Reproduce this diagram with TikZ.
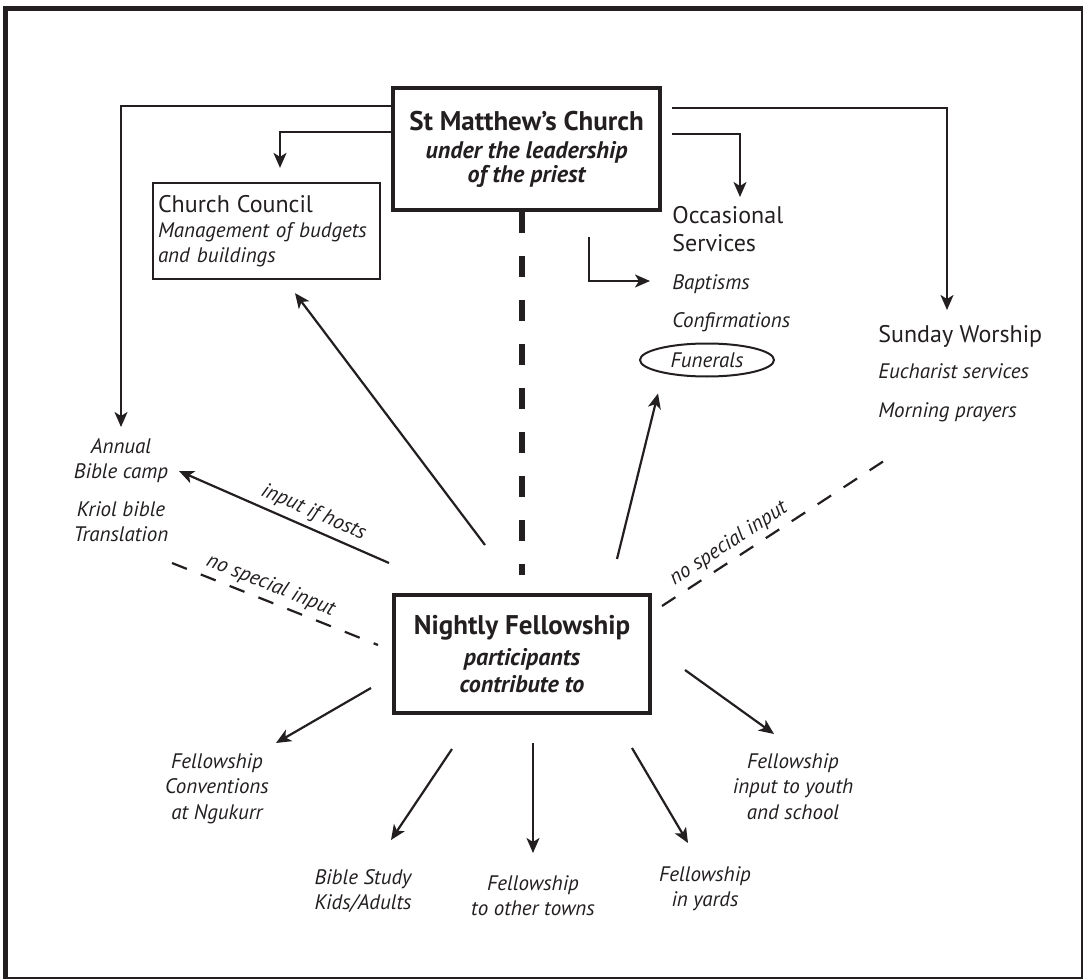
\documentclass[tikz,border=0pt]{standalone}
\usepackage{fontspec}
\setmainfont{PT Sans}
\usetikzlibrary{calc}
\usetikzlibrary{arrows.meta}
\usetikzlibrary{shapes.geometric}
\definecolor{ink}{RGB}{35,31,32}
\tikzset{
	titlebox/.style={draw, line width=2pt, align=center, inner sep=0pt},
	headtext/.style={inner sep=0pt, align=left, font=\fontsize{12}{14}\selectfont},
	itemtext/.style={inner sep=0pt, align=center, font=\fontsize{10.5}{12.8}\selectfont\itshape},
	link/.style={->, line width=1.1pt},
	looselink/.style={line width=1.1pt, dash pattern=on 8pt off 7.5pt},
	slopetext/.style={sloped, above=2.5pt, inner sep=0pt, font=\fontsize{10.5}{12}\selectfont\itshape},
}
\begin{document}
\begin{tikzpicture}[x=0.5pt, y=-0.5pt, color=ink, >={Stealth[length=7.5pt,width=6.5pt,inset=2pt]}]
	\useasboundingbox (0,0) rectangle (1083,979);
	% frame
	\draw[line width=2.5pt] (5,979) |- (1083,8.5);
	\draw[line width=0.6pt] (1082,8) |- (5,978);

	% the two main boxes
	\node[titlebox, minimum width=133.5pt, minimum height=61pt, font=\fontsize{12}{12}\selectfont\bfseries\itshape] (church) at (526.5,149)
		{{\upshape\fontsize{13.5}{13.5}\selectfont St Matthew’s Church}\\[2pt] under the leadership\\ of the priest};
	\node[titlebox, minimum width=128pt, minimum height=59pt, font=\fontsize{12}{13.5}\selectfont\bfseries\itshape] (nf) at (522,654)
		{{\upshape\fontsize{13.5}{13.5}\selectfont Nightly Fellowship}\\[2pt] participants\\ contribute to};
	\node[draw, line width=1.1pt, minimum width=113.5pt, minimum height=48pt, text width=108.5pt, inner xsep=2.5pt, inner ysep=0pt, align=left, font=\fontsize{10.5}{12.5}\selectfont] (council) at (266.5,231)
		{{\fontsize{12}{12}\selectfont Church Council}\\ \textit{Management of budgets}\\ \textit{and buildings}};

	% church side
	\node[headtext, anchor=north west] (occ) at (672,206) {Occasional\\Services};
	\node[itemtext, anchor=base west] (bapt) at (672,290) {Baptisms};
	\node[itemtext, anchor=base west] (conf) at (672,328) {Confirmations};
	\node[itemtext, ellipse, draw, line width=1pt, minimum width=67pt, minimum height=16.5pt] (fun) at (707,360) {Funerals};
	\node[headtext, anchor=north west] (sunday) at (878,325) {Sunday Worship};
	\node[itemtext, anchor=base west] (euch) at (878,378) {Eucharist services};
	\node[itemtext, anchor=base west] (morn) at (878,417) {Morning prayers};
	\node[itemtext, anchor=north] (camp) at (121,438) {Annual\\Bible camp};
	\node[itemtext, anchor=north] (kriol) at (121,501) {Kriol bible\\Translation};

	% fellowship side
	\node[itemtext, anchor=north] (conv) at (217,753) {Fellowship\\Conventions\\at Ngukurr};
	\node[itemtext, anchor=north] (study) at (363,869) {Bible Study\\Kids/Adults};
	\node[itemtext, anchor=north] (towns) at (533,875) {Fellowship\\to other towns};
	\node[itemtext, anchor=north] (yards) at (705,866) {Fellowship\\in yards};
	\node[itemtext, anchor=north] (youth) at (793,753) {Fellowship\\input to youth\\and school};

	% links from the church
	\draw[link] ([yshift=-10pt]church.north west) -| ([yshift=5.5pt]camp.north);
	\draw[link] ([yshift=-23pt]church.north west) -| ([xshift=6.75pt,yshift=7pt]council.north);
	\draw[link] ([xshift=5pt,yshift=-24pt]church.north east) -| ($ (occ.north west) + (68,-9) $);
	\draw[link] ([xshift=5pt,yshift=-11pt]church.north east) -| ($ (sunday.north west) + (69,-15) $);
	\draw[link] ($ (church.south) + (62.5,25) $) |- ($ (bapt.base west) + (-22,-9) $);
	\draw[line width=2.8pt, dash pattern=on 10.5pt off 11.5pt] (church.south -| nf.north) -- ($ (nf.north) + (0,-18) $);

	% links from the fellowship
	\draw[link] ($ (nf) + (-37,-109) $) -- ($ (council.south) + (28.5,13) $);
	\draw[link] ($ (nf) + (-133,-91) $) -- node[slopetext, pos=0.39] {input if hosts} ($ (camp.north) + (58,33) $);
	\draw[link] ($ (nf) + (95,-95) $) -- ($ (fun.south) + (-49,16) $);
	\draw[link] ($ (nf) + (163,16) $) -- ($ (youth.north) + (-19,-19) $);
	\draw[link] ($ (nf) + (110,94) $) -- ($ (yards.north) + (-17,-23) $);
	\draw[link] ($ (nf) + (-151,34) $) -- ($ (conv.north) + (59,-10) $);
	\draw[link] ($ (nf) + (-70,95) $) -- ($ (study.north) + (28,-29) $);
	\draw[link] ($ (nf) + (11,89) $) -- ($ (towns.north) + (0,-22) $);
	\draw[looselink] ($ (nf.west) + (-220,-91) $) -- node[slopetext, pos=0.45] {no special input} ($ (nf.west) + (-14,-9) $);
	\draw[looselink] ($ (nf.east) + (10,-48) $) -- node[slopetext, pos=0.33] {no special input} ($ (nf.east) + (238,-197) $);
\end{tikzpicture}
\end{document}
